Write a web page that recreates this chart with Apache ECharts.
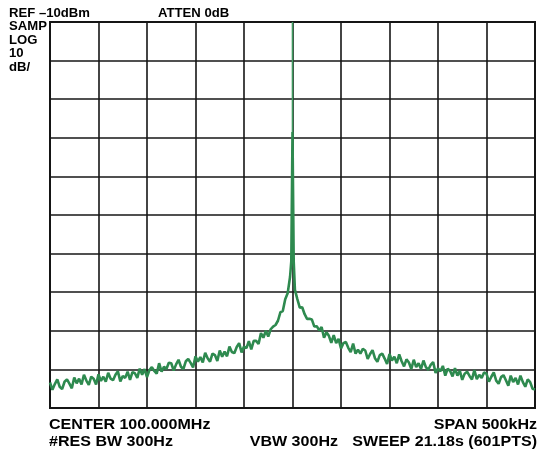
<!DOCTYPE html>
<html>
<head>
<meta charset="utf-8">
<style>
  html, body { margin: 0; padding: 0; background: #fff; }
  #main { width: 540px; height: 451px; }
</style>
<script src="https://cdn.jsdelivr.net/npm/echarts@6/dist/echarts.min.js"></script>
</head>
<body>
<div id="main"></div>
<script>
// sweep: 500kHz span round 100MHz, offsets in kHz, one reading every 2.5kHz
var spanStart = -250, spanStep = 2.5;
var sweepLevels = [
  -103.4, -105.3, -103.8, -102.6, -104.5, -105.1, -103.2, -102.6, -103.7, -104.9,
  -102.1, -103.6, -102.4, -103.9, -101.4, -102.9, -104.0, -101.9, -102.4, -103.9,
  -101.3, -103.0, -101.9, -103.2, -100.9, -102.4, -102.8, -101.4, -100.5, -103.1,
  -101.7, -102.2, -100.6, -102.7, -100.7, -101.0, -102.2, -99.8, -101.4, -99.9,
  -102.0, -100.2, -99.4, -100.4, -101.1, -98.4, -100.6, -99.3, -99.9, -98.3,
  -98.4, -100.3, -98.7, -97.5, -99.3, -99.9, -97.9, -97.3, -98.3, -99.5,
  -96.6, -98.0, -96.8, -98.2, -95.7, -97.1, -98.0, -95.9, -96.3, -97.8,
  -95.1, -96.7, -95.4, -96.6, -94.1, -95.5, -95.8, -94.2, -93.2, -95.6,
  -94.1, -94.5, -92.7, -94.8, -92.6, -92.6, -93.4, -90.6, -91.8, -90.0,
  -91.5, -89.6, -88.9, -88.5, -87.4, -85.2, -84.9, -81.8, -80.3, -76.0,
  -38.5,
  -79.4, -81.8, -84.0, -83.9, -85.7, -86.9, -86.9, -87.1, -88.9, -88.8,
  -89.9, -89.0, -91.8, -90.4, -91.3, -93.1, -91.1, -93.2, -92.1, -94.6,
  -93.2, -92.9, -94.4, -95.5, -93.3, -95.9, -94.9, -95.9, -94.7, -95.1,
  -97.3, -96.0, -95.0, -97.1, -98.0, -96.3, -95.9, -97.2, -98.6, -96.0,
  -97.7, -96.7, -98.4, -96.1, -97.9, -99.2, -97.4, -98.2, -99.9, -97.5,
  -99.4, -98.4, -99.9, -97.7, -99.4, -100.1, -98.8, -98.1, -100.9, -99.7,
  -100.5, -99.1, -101.6, -99.8, -100.4, -101.8, -99.7, -101.6, -100.4, -102.7,
  -101.1, -100.6, -101.7, -102.6, -100.2, -102.5, -101.4, -102.2, -100.8, -101.1,
  -103.2, -101.9, -100.8, -102.9, -103.7, -102.0, -101.5, -102.8, -104.2, -101.6,
  -103.3, -102.2, -103.9, -101.6, -103.3, -104.5, -102.6, -103.3, -105.0, -105.2
];
// extra readings right beside the carrier
var carrierOffsets = [-1.25, 1.25];
var carrierLevels = [-72, -72];
// the carrier itself, up to the reference level
var peakOffsets = [0, 0];
var peakLevels = [-38.5, -10];

var xTicks = { min: -250, max: 250, interval: 50 };
var yTicks = { min: -110, max: -10, interval: 10 };

var trace = [];
for (var i = 0; i < sweepLevels.length; i++) {
  trace.push([spanStart + i * spanStep, sweepLevels[i]]);
}
for (var j = 0; j < carrierOffsets.length; j++) {
  trace.push([carrierOffsets[j], carrierLevels[j]]);
}
trace.sort(function (a, b) { return a[0] - b[0]; });

var peak = [];
for (var k = 0; k < peakOffsets.length; k++) {
  peak.push([peakOffsets[k], peakLevels[k]]);
}

var green = '#2e8a4f';
var gridColor = '#161616';
var smallFont = 'bold 12.5px "Liberation Sans", Arial, sans-serif';
var bigFont = 'bold 15px "Liberation Sans", Arial, sans-serif';

function label(txt, x, y, font, align, sx) {
  return {
    type: 'text', x: x, y: y, scaleX: sx, silent: true,
    style: {
      text: txt, x: 0, y: 0, font: font, fill: '#000',
      textAlign: align, textVerticalAlign: 'middle'
    }
  };
}

var myChart = echarts.init(document.getElementById('main'));
var option = {
  animation: false,
  backgroundColor: '#fff',
  grid: {
    left: 50, right: 5, top: 22, bottom: 43,
    show: true, borderColor: gridColor, borderWidth: 2
  },
  xAxis: {
    type: 'value',
    min: xTicks.min, max: xTicks.max, interval: xTicks.interval,
    axisLabel: { show: false },
    axisTick: { show: false },
    axisLine: { show: false },
    splitLine: { show: true, lineStyle: { color: gridColor, width: 1.6 } }
  },
  yAxis: {
    type: 'value',
    min: yTicks.min, max: yTicks.max, interval: yTicks.interval,
    axisLabel: { show: false },
    axisTick: { show: false },
    axisLine: { show: false },
    splitLine: { show: true, lineStyle: { color: gridColor, width: 1.6 } }
  },
  series: [{
    name: 'trace',
    type: 'line',
    data: trace,
    showSymbol: false,
    lineStyle: { color: green, width: 2.6 },
    z: 3
  }, {
    name: 'carrier',
    type: 'line',
    data: peak,
    showSymbol: false,
    lineStyle: { color: '#3f9a60', width: 1.6 },
    z: 3
  }],
  graphic: [
    label('REF \u201310dBm', 9, 14, smallFont, 'left', 1.05),
    label('ATTEN 0dB', 158, 14, smallFont, 'left', 1.05),
    label('SAMP', 9, 27, smallFont, 'left', 1.05),
    label('LOG', 9, 40.5, smallFont, 'left', 1.05),
    label('10', 9, 54, smallFont, 'left', 1.05),
    label('dB/', 9, 67.5, smallFont, 'left', 1.05),
    label('CENTER 100.000MHz', 49, 425, bigFont, 'left', 1.07),
    label('#RES BW 300Hz', 49, 442, bigFont, 'left', 1.07),
    label('SPAN 500kHz', 537, 425, bigFont, 'right', 1.07),
    label('VBW 300Hz', 338, 442, bigFont, 'right', 1.07),
    label('SWEEP 21.18s (601PTS)', 537, 442, bigFont, 'right', 1.07)
  ]
};
myChart.setOption(option);
window.onresize = myChart.resize;
</script>
</body>
</html>
